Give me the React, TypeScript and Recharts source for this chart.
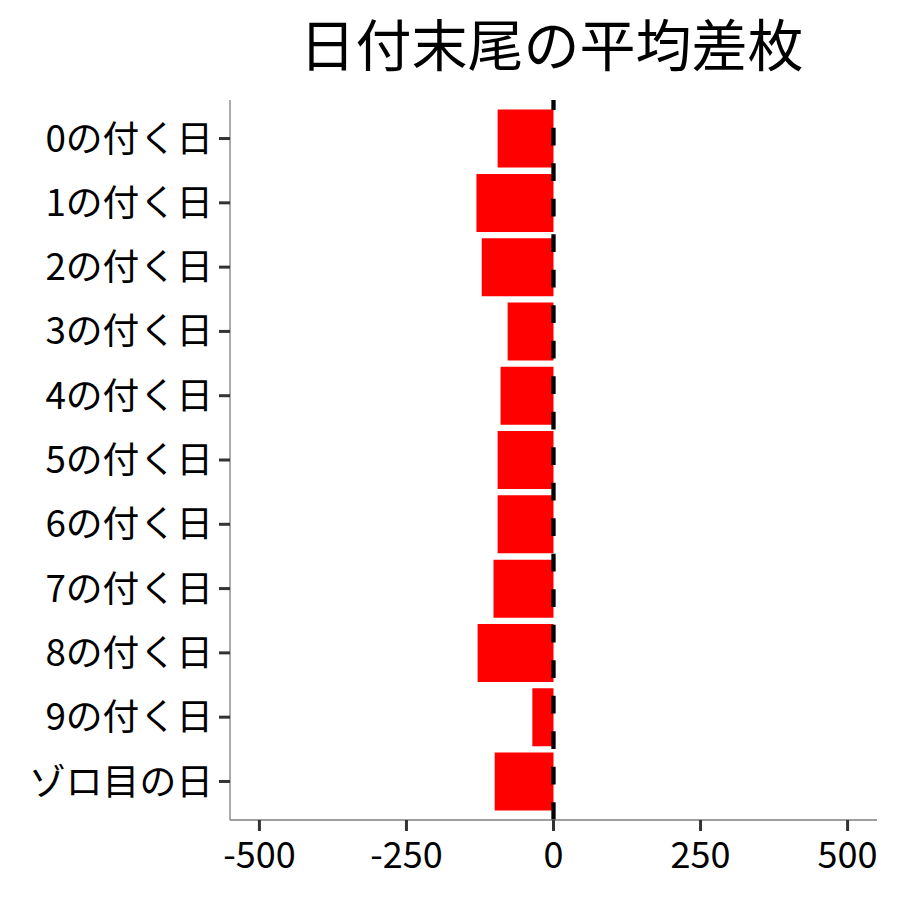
import { BarChart, Bar, XAxis, YAxis, ReferenceLine } from "recharts";

const categories = [
  "0の付く日",
  "1の付く日",
  "2の付く日",
  "3の付く日",
  "4の付く日",
  "5の付く日",
  "6の付く日",
  "7の付く日",
  "8の付く日",
  "9の付く日",
  "ゾロ目の日",
];
const avgDiff = [-95, -131, -122, -78, -90, -95, -95, -102, -129, -36, -100];
const xTicks = [-500, -250, 0, 250, 500];

const data = categories.map((label, i) => ({ label, value: avgDiff[i] }));

const font = '"Noto Sans CJK JP", "Noto Sans", sans-serif';

export default function App() {
  return (
    <div style={{ position: "absolute", left: 0, top: 0, width: 900, height: 900, background: "#fff" }}>
      <BarChart
        width={900}
        height={900}
        data={data}
        layout="vertical"
        margin={{ top: 100, right: 23, bottom: 0, left: 0 }}
        barCategoryGap="5%"
      >
        <text x={551.5} y={66} textAnchor="middle" fontSize={56} fontFamily={font} fill="#000">
          日付末尾の平均差枚
        </text>
        <XAxis
          type="number"
          domain={[-550, 550]}
          ticks={xTicks}
          height={80}
          tickSize={11}
          tickMargin={11}
          axisLine={{ stroke: "#7f7f7f", strokeWidth: 1.3 }}
          tickLine={{ stroke: "#333", strokeWidth: 3 }}
          tick={{ fill: "#000", fontSize: 36, fontFamily: font }}
        />
        <YAxis
          type="category"
          dataKey="label"
          width={230}
          interval={0}
          padding={{ top: 6.4, bottom: 6.4 }}
          tickSize={11}
          tickMargin={6}
          axisLine={{ stroke: "#7f7f7f", strokeWidth: 1.3 }}
          tickLine={{ stroke: "#333", strokeWidth: 3 }}
          tick={{ fill: "#000", fontSize: 36.8, fontFamily: font }}
        />
        <Bar dataKey="value" fill="#ff0000" isAnimationActive={false} />
        <ReferenceLine x={0} stroke="#000" strokeWidth={4.3} strokeDasharray="17.75 17.75" />
      </BarChart>
    </div>
  );
}
